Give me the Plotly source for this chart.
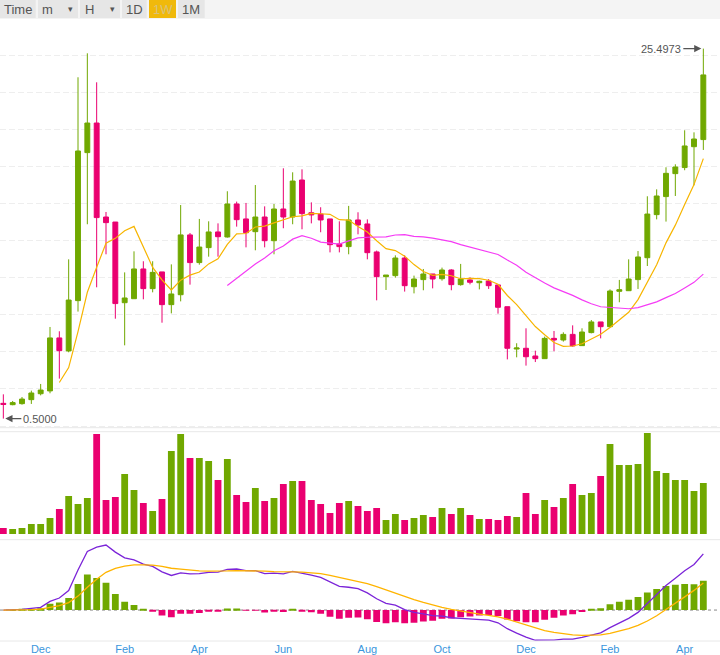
import pandas as pd
import plotly.graph_objects as go
from plotly.subplots import make_subplots

# weekly candles, Nov 2017 -> Apr 2019
dates = pd.date_range("2017-11-06", periods=76, freq="7D")

opens = [1.53, 1.44, 1.51, 1.78, 2.18, 2.37, 5.95, 5.07, 8.47, 18.47,
         20.47, 14.12, 13.78, 8.33, 8.60, 10.61, 9.28, 10.41, 8.20, 8.87,
         12.91, 11.04, 12.05, 13.11, 12.77, 15.00, 13.99, 13.13, 14.12, 12.52,
         14.66, 14.12, 16.62, 14.41, 14.32, 13.99, 12.30, 12.12, 13.92, 13.65,
         11.76, 10.09, 10.16, 11.35, 9.41, 9.89, 10.27, 9.95, 10.54, 9.55,
         9.87, 9.68, 9.80, 9.53, 8.06, 5.20, 5.25, 4.73, 4.55, 5.92,
         5.81, 6.19, 5.43, 6.31, 7.03, 6.71, 9.10, 9.14, 9.89, 11.37,
         14.28, 15.50, 17.05, 17.46, 18.87, 19.35]
highs = [2.14, 1.69, 1.96, 2.39, 2.84, 6.69, 6.40, 11.26, 23.56, 25.18,
         23.22, 14.46, 13.78, 10.38, 11.80, 11.13, 11.13, 10.41, 10.92, 14.93,
         13.04, 13.99, 13.83, 13.69, 15.86, 15.16, 15.07, 16.28, 14.84, 15.00,
         17.41, 17.14, 17.34, 15.11, 14.78, 13.99, 13.83, 14.87, 14.44, 13.96,
         11.85, 10.20, 11.53, 11.53, 10.16, 10.61, 10.27, 10.70, 10.59, 10.95,
         10.05, 9.82, 9.93, 9.53, 8.06, 5.59, 6.60, 5.09, 6.04, 6.42,
         6.33, 6.80, 6.60, 7.16, 7.03, 9.23, 9.87, 11.26, 11.82, 15.52,
         15.99, 17.48, 17.68, 19.98, 19.84, 25.4973]
lows = [0.50, 1.40, 1.44, 1.49, 2.07, 2.21, 3.20, 4.98, 7.73, 13.63,
        9.37, 11.60, 7.25, 5.45, 8.60, 8.56, 9.03, 6.98, 7.61, 8.42,
        9.55, 10.90, 11.44, 11.44, 12.73, 13.47, 12.07, 11.87, 12.07, 11.60,
        13.36, 13.63, 13.29, 13.69, 13.09, 11.73, 11.73, 11.60, 12.95, 11.26,
        8.49, 9.19, 10.02, 9.08, 8.96, 9.17, 9.30, 9.82, 9.17, 9.48,
        9.57, 9.23, 9.26, 7.59, 4.50, 4.64, 4.08, 4.32, 4.55, 5.05,
        5.70, 5.36, 5.41, 6.26, 5.92, 6.64, 8.36, 9.12, 9.26, 10.81,
        13.96, 13.81, 15.54, 17.28, 16.26, 18.65]
closes = [1.46, 1.58, 1.82, 2.23, 2.43, 5.95, 5.09, 8.51, 18.58, 20.47,
          14.08, 13.74, 8.27, 8.65, 10.61, 9.28, 10.38, 8.20, 8.92, 12.91,
          11.04, 12.09, 13.11, 12.79, 15.00, 13.94, 13.06, 14.12, 12.52, 14.66,
          14.12, 16.55, 14.35, 14.26, 13.92, 12.25, 12.12, 13.92, 13.58, 11.71,
          10.09, 10.20, 11.35, 9.48, 9.93, 10.27, 9.93, 10.54, 9.55, 9.93,
          9.71, 9.78, 9.48, 8.02, 5.25, 5.27, 4.68, 4.55, 5.92, 5.81,
          6.19, 5.41, 6.35, 7.03, 6.71, 9.12, 9.21, 9.93, 11.42, 14.32,
          15.54, 17.07, 17.50, 18.92, 19.39, 23.72]
# volume, thousands
volumes = [18, 15, 18, 30, 30, 48, 75, 114, 90, 108,
           300, 102, 111, 180, 132, 93, 69, 105, 249, 300,
           228, 228, 219, 162, 225, 117, 96, 138, 99, 108,
           150, 159, 159, 102, 90, 63, 93, 99, 84, 69,
           78, 42, 60, 42, 48, 57, 51, 78, 60, 78,
           57, 45, 45, 42, 54, 51, 123, 60, 102, 81,
           108, 150, 117, 123, 174, 270, 207, 207, 210, 303,
           189, 183, 162, 162, 129, 153]

tick_dates = ["2017-12-04", "2018-02-05", "2018-04-02", "2018-06-04", "2018-08-06",
              "2018-10-01", "2018-12-03", "2019-02-04", "2019-04-01"]
tick_text = ["Dec", "Feb", "Apr", "Jun", "Aug", "Oct", "Dec", "Feb", "Apr"]

UP = "#70a800"
DOWN = "#ea0070"
W, H = 720, 655
B = 14            # bottom margin for the date labels
PH = H - B


def py(px):
    # pixel row -> paper y
    return (PH - px) / PH


def pxx(px):
    return px / W


def label(fig, x, y, text, size=13, color="#555"):
    fig.add_annotation(x=pxx(x), y=py(y), xref="paper", yref="paper", text=text,
                       showarrow=False, xanchor="center", yanchor="middle",
                       font=dict(size=size, color=color))


def build():
    s = pd.Series(closes)
    ma7 = s.rolling(7).mean()
    ma25 = s.rolling(25).mean()
    ema12 = s.ewm(span=12, adjust=False).mean()
    ema26 = s.ewm(span=26, adjust=False).mean()
    dif = ema12 - ema26
    dea = dif.ewm(span=9, adjust=False).mean()
    hist = dif - dea

    up = [c >= o for o, c in zip(opens, closes)]
    vol_colors = [UP if u else DOWN for u in up]
    hist_colors = [UP if h >= 0 else DOWN for h in hist]

    fig = make_subplots(rows=3, cols=1, shared_xaxes=True, vertical_spacing=0)

    fig.add_trace(go.Candlestick(
        x=dates, open=opens, high=highs, low=lows, close=closes,
        increasing=dict(line=dict(color=UP, width=1), fillcolor=UP),
        decreasing=dict(line=dict(color=DOWN, width=1), fillcolor=DOWN),
        whiskerwidth=0, showlegend=False, hoverinfo="skip"), row=1, col=1)
    fig.add_trace(go.Scatter(x=dates, y=ma7, mode="lines",
                             line=dict(color="#f7b500", width=1.2),
                             showlegend=False), row=1, col=1)
    fig.add_trace(go.Scatter(x=dates, y=ma25, mode="lines",
                             line=dict(color="#f53cf5", width=1.2),
                             showlegend=False), row=1, col=1)

    fig.add_trace(go.Bar(x=dates, y=volumes, marker=dict(color=vol_colors, line_width=0),
                         showlegend=False), row=2, col=1)

    fig.add_trace(go.Bar(x=dates, y=hist, marker=dict(color=hist_colors, line_width=0),
                         showlegend=False), row=3, col=1)
    fig.add_trace(go.Scatter(x=dates, y=dif, mode="lines",
                             line=dict(color="#7b24d8", width=1.3),
                             showlegend=False), row=3, col=1)
    fig.add_trace(go.Scatter(x=dates, y=dea, mode="lines",
                             line=dict(color="#ffb400", width=1.3),
                             showlegend=False), row=3, col=1)

    x_range = [dates[0] - pd.Timedelta(days=2.5), dates[-1] + pd.Timedelta(days=12.5)]
    for n in (1, 2, 3):
        fig.update_xaxes(range=x_range, showgrid=False, zeroline=False,
                         showticklabels=False, rangeslider_visible=False,
                         automargin=False, row=n, col=1)
    fig.update_xaxes(showticklabels=True, tickvals=tick_dates, ticktext=tick_text,
                     tickfont=dict(size=11, color="#3a96dd"), ticks="", row=3, col=1)

    # macd pane: extremes of dif sit 5 px from top / 1 px from bottom
    lo, hi = dif.min(), dif.max()
    step = (hi - lo) / 95.3
    macd_range = [lo - 0.7 * step, hi + 5.3 * step]

    fig.update_layout(
        width=W, height=H,
        margin=dict(l=0, r=0, t=0, b=B),
        paper_bgcolor="white", plot_bgcolor="white",
        bargap=0.27, boxgap=0.25,
        font=dict(family="Liberation Sans, Arial, sans-serif", color="#555"),
        yaxis=dict(domain=[py(427.7), py(20)], range=[-0.115, 27.43],
                   tick0=0, dtick=2.5, showticklabels=False, zeroline=False,
                   gridcolor="#eeeeee", griddash="6px,3px", automargin=False),
        yaxis2=dict(domain=[py(539.7), py(431.7)], range=[-17.1, 306.9],
                    showgrid=False, zeroline=False, showticklabels=False, automargin=False),
        yaxis3=dict(domain=[0, py(539.7)], range=macd_range,
                    showgrid=False, zeroline=False, showticklabels=False, automargin=False),
    )

    # pane separators
    for row in (427.7, 431.7, 539.7, 641):
        fig.add_shape(type="line", xref="paper", yref="paper", x0=0, x1=1,
                      y0=py(row), y1=py(row), line=dict(color="#e8e8e8", width=1))
    # macd zero line
    fig.add_shape(type="line", xref="paper", yref="y3", x0=0, x1=1, y0=0, y1=0,
                  line=dict(color="#888", width=1, dash="3px,3px"), layer="below")

    # high / low markers
    i_hi = highs.index(max(highs))
    i_lo = lows.index(min(lows))
    fig.add_annotation(x=dates[i_hi], y=highs[i_hi], xref="x", yref="y",
                       text=f"{highs[i_hi]:.4f}", showarrow=True, arrowhead=2,
                       arrowsize=1.1, arrowwidth=1.3, arrowcolor="#555", standoff=2,
                       ax=-20, ay=0, xanchor="right", font=dict(size=11, color="#555"))
    fig.add_annotation(x=dates[i_lo], y=lows[i_lo], xref="x", yref="y",
                       text=f"{lows[i_lo]:.4f}", showarrow=True, arrowhead=2,
                       arrowsize=1.1, arrowwidth=1.3, arrowcolor="#555", standoff=2,
                       ax=18, ay=0, xanchor="left", font=dict(size=11, color="#555"))

    # toolbar
    fig.add_shape(type="rect", xref="paper", yref="paper", x0=0, x1=1,
                  y0=py(19), y1=py(0), fillcolor="#f4f4f4", line_width=0)
    buttons = [("Time", 0, 35.7, False), ("m", 38, 78, False), ("H", 80, 120, False),
               ("1D", 122, 146.7, False), ("1W", 149, 176, True), ("1M", 178, 204.7, False)]
    for text, x0, x1, active in buttons:
        fig.add_shape(type="rect", xref="paper", yref="paper", x0=pxx(x0), x1=pxx(x1),
                      y0=py(18), y1=py(0), line_width=0,
                      fillcolor="#f0b90b" if active else "#e6e6e6")
        cx = (x0 + x1) / 2
        if text in ("m", "H"):
            cx = x0 + 9.5
            label(fig, x1 - 7.5, 9, "▾", size=9)
        label(fig, cx, 9.5, text, color="#d8c27a" if active else "#555")
    return fig


if __name__ == "__main__":
    fig = build()
    # page body has an 8px default margin; drop it so the chart fills the window
    fig.write_html("out.html", config={"displayModeBar": False},
                   post_script="document.body.style.margin='0';")
